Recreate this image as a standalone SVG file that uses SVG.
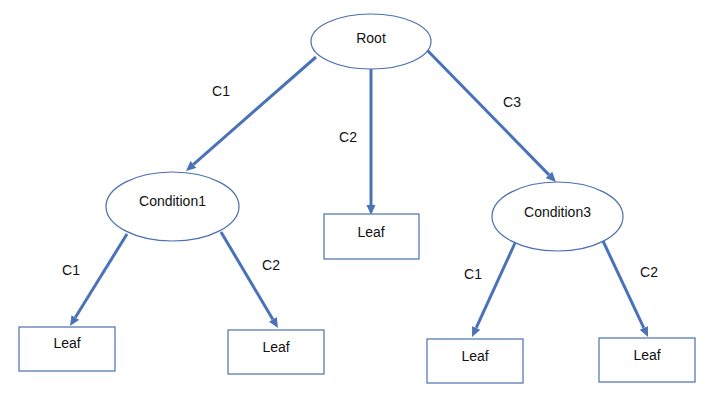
<svg xmlns="http://www.w3.org/2000/svg" width="719" height="407" viewBox="0 0 719 407">
<style>
.node{fill:#ffffff;stroke:#4a6fb0;stroke-width:1.2}
.t{font-family:"Liberation Sans",Arial,sans-serif;font-size:14px;fill:#111111;text-anchor:middle;dominant-baseline:central}
.edge{stroke:#4a72b8;stroke-width:3;fill:none;marker-end:url(#ah)}
</style>
<defs>
<marker id="ah" markerUnits="userSpaceOnUse" viewBox="0 -5 10 10" refX="0" refY="0" markerWidth="10" markerHeight="10" orient="auto">
<path d="M0,-4.5 L10,0 L0,4.5 z" fill="#4a72b8"/>
</marker>
</defs>
<rect width="719" height="407" fill="#ffffff"/>
<g id="connectors">
<line class="edge" x1="316" y1="57" x2="193.5" y2="164.4"/>
<line class="edge" x1="371" y1="69" x2="371" y2="205"/>
<line class="edge" x1="427" y1="50" x2="549" y2="174.9"/>
<line class="edge" x1="127" y1="234" x2="75.3" y2="317.5"/>
<line class="edge" x1="221" y1="232" x2="272.9" y2="319.4"/>
<line class="edge" x1="515" y1="243" x2="476.2" y2="327.9"/>
<line class="edge" x1="603" y1="241" x2="643.8" y2="327.9"/>
<text class="t" x="221" y="91">C1</text>
<text class="t" x="348" y="137">C2</text>
<text class="t" x="512" y="102">C3</text>
<text class="t" x="71" y="270">C1</text>
<text class="t" x="271" y="265">C2</text>
<text class="t" x="473" y="274">C1</text>
<text class="t" x="649" y="272">C2</text>
</g>
<g id="root">
<ellipse class="node" cx="371" cy="41.5" rx="60" ry="27.5"/>
<text class="t" x="371" y="38">Root</text>
</g>
<g id="condition1">
<ellipse class="node" cx="172.5" cy="206.5" rx="66.5" ry="34.5"/>
<text class="t" x="172.5" y="201">Condition1</text>
</g>
<g id="condition3">
<ellipse class="node" cx="557.5" cy="216.5" rx="65.5" ry="34.5"/>
<text class="t" x="557.5" y="212">Condition3</text>
</g>
<g id="leaf-c2">
<rect class="node" x="324" y="214" width="95" height="45"/>
<text class="t" x="371" y="232">Leaf</text>
</g>
<g id="leaf-c1-c1">
<rect class="node" x="19" y="327" width="96" height="44"/>
<text class="t" x="67" y="343">Leaf</text>
</g>
<g id="leaf-c1-c2">
<rect class="node" x="228" y="330" width="96" height="44"/>
<text class="t" x="276" y="347">Leaf</text>
</g>
<g id="leaf-c3-c1">
<rect class="node" x="427" y="339" width="96" height="44"/>
<text class="t" x="475" y="356">Leaf</text>
</g>
<g id="leaf-c3-c2">
<rect class="node" x="599" y="338" width="96" height="44"/>
<text class="t" x="647" y="355">Leaf</text>
</g>
</svg>
